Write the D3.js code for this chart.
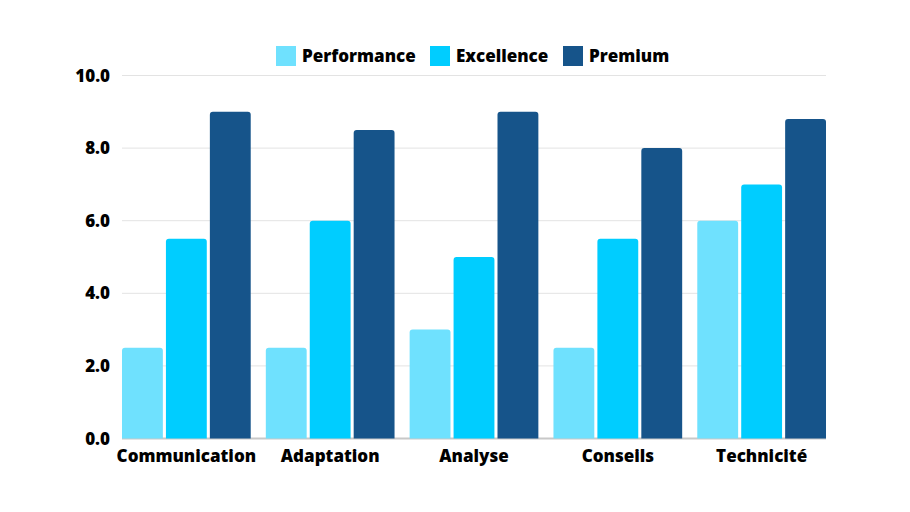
<!DOCTYPE html>
<html>
<head>
<meta charset="utf-8">
<script src="https://cdn.jsdelivr.net/npm/d3@7"></script>
<style>
  body { margin: 0; background: #fff; }
  text { font-family: "Open Sans", "Noto Sans", sans-serif; font-weight: 800; fill: #000; }
</style>
</head>
<body>
<div id="chart"></div>
<script>
const categories = ['Communication', 'Adaptation', 'Analyse', 'Conseils', 'Technicité'];
const seriesNames = ['Performance', 'Excellence', 'Premium'];
const performance = [2.5, 2.5, 3.0, 2.5, 6.0];
const excellence = [5.5, 6.0, 5.0, 5.5, 7.0];
const premium = [9.0, 8.5, 9.0, 8.0, 8.8];
const yTicks = [0, 2, 4, 6, 8, 10];
const colors = ['#6fe1fe', '#00cdff', '#16548a'];

const width = 910, height = 512;
const svg = d3.select('#chart').append('svg')
  .attr('width', width)
  .attr('height', height);

const x0 = d3.scaleBand().domain(categories).range([122, 826]).paddingInner(0.105).paddingOuter(0);
const x1 = d3.scaleBand().domain(seriesNames).range([0, x0.bandwidth()]).paddingInner(0.07);
const y = d3.scaleLinear().domain([0, 10]).range([438.5, 75.5]);

// gridlines
svg.append('g').selectAll('line')
  .data(yTicks)
  .join('line')
  .attr('x1', 122).attr('x2', 826)
  .attr('y1', d => y(d)).attr('y2', d => y(d))
  .attr('stroke', d => d === 0 ? '#c8c8c8' : '#e3e3e3')
  .attr('stroke-width', d => d === 0 ? 2 : 1);

// y labels
svg.append('g').selectAll('text')
  .data(yTicks)
  .join('text')
  .attr('x', 110)
  .attr('y', d => y(d))
  .attr('dy', '0.36em')
  .attr('text-anchor', 'end')
  .style('font-size', '17px')
  .text(d => d.toFixed(1));

const seriesValues = [performance, excellence, premium];
const rows = categories.map((c, i) => ({ cat: c, vals: seriesNames.map((s, j) => ({ s, v: seriesValues[j][i], c: colors[j] })) }));

function topRounded(x, y0, w, h, r) {
  return `M${x},${y0 + h} V${y0 + r} Q${x},${y0} ${x + r},${y0} H${x + w - r} Q${x + w},${y0} ${x + w},${y0 + r} V${y0 + h} Z`;
}

const groups = svg.append('g').selectAll('g')
  .data(rows)
  .join('g')
  .attr('transform', d => `translate(${x0(d.cat)},0)`);

groups.selectAll('path')
  .data(d => d.vals)
  .join('path')
  .attr('d', d => topRounded(x1(d.s), y(d.v), x1.bandwidth(), y(0) - y(d.v), 3))
  .attr('fill', d => d.c);

// category labels
svg.append('g').selectAll('text')
  .data(categories)
  .join('text')
  .attr('x', d => x0(d) + x0.bandwidth() / 2)
  .attr('y', 462)
  .attr('text-anchor', 'middle')
  .style('font-size', '17px')
  .text(d => d);

// legend
const legendX = [276, 430, 563];
const legend = svg.append('g').selectAll('g')
  .data(seriesNames)
  .join('g')
  .attr('transform', (d, i) => `translate(${legendX[i]},46)`);
legend.append('rect')
  .attr('width', 20).attr('height', 20)
  .attr('fill', (d, i) => colors[i]);
legend.append('text')
  .attr('x', 26).attr('y', 10)
  .attr('dy', '0.36em')
  .style('font-size', '17px')
  .text(d => d);
</script>
</body>
</html>
